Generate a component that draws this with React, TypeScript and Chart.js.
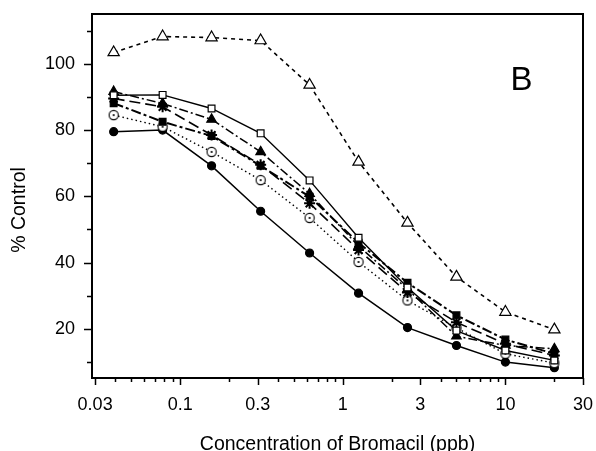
import React, { useEffect, useRef } from "react";
import { Chart, registerables } from "chart.js";

Chart.register(...registerables);

// Concentrations of Bromacil (ppb)
const CONC = [0.039, 0.078, 0.156, 0.3125, 0.625, 1.25, 2.5, 5, 10, 20];

// % Control series
const OPEN_TRIANGLE = [103.4, 108.2, 107.9, 107.0, 93.6, 70.4, 52.0, 35.7, 25.1, 19.8];
const OPEN_SQUARE = [90.5, 90.6, 86.5, 79.0, 64.8, 47.5, 32.5, 19.5, 13.5, 10.5];
const FILLED_TRIANGLE = [91.6, 88.0, 83.2, 73.4, 60.8, 45.0, 32.0, 17.8, 15.0, 14.0];
const STAR = [89.5, 87.0, 78.5, 69.5, 57.9, 43.8, 31.0, 22.0, 15.5, 12.0];
const FILLED_SQUARE = [88.1, 82.5, 78.2, 69.2, 59.9, 46.0, 33.9, 24.1, 16.8, 12.5];
const DOTTED_CIRCLE = [84.5, 81.0, 73.4, 64.9, 53.5, 40.2, 28.6, 20.3, 12.5, 9.7];
const FILLED_CIRCLE = [79.5, 80.0, 69.2, 55.5, 42.9, 30.8, 20.4, 15.0, 10.0, 8.3];

// Axis ticks
const X_MAJOR_TICKS = [0.03, 0.1, 0.3, 1, 3, 10, 30];
const X_MINOR_TICKS = [0.04, 0.05, 0.06, 0.07, 0.08, 0.09, 0.2, 0.4, 0.5, 0.6, 0.7, 0.8, 0.9, 2, 4, 5, 6, 7, 8, 9, 20];
const Y_MAJOR_TICKS = [20, 40, 60, 80, 100];
const Y_MINOR_TICKS = [10, 30, 50, 70, 90, 110];

const X_TITLE = "Concentration of Bromacil (ppb)";
const Y_TITLE = "% Control";
const PANEL_LABEL = "B";

const FONT = "'Liberation Sans', Arial, Helvetica, sans-serif";

function makeDottedCircle(): HTMLCanvasElement {
  const c = document.createElement("canvas");
  c.width = 12;
  c.height = 12;
  const g = c.getContext("2d")!;
  g.fillStyle = "#fff";
  g.strokeStyle = "#000";
  g.lineWidth = 1.1;
  g.beginPath();
  g.arc(6, 6, 4.6, 0, Math.PI * 2);
  g.fill();
  g.stroke();
  g.fillStyle = "#000";
  g.beginPath();
  g.arc(6, 6, 1.1, 0, Math.PI * 2);
  g.fill();
  return c;
}

const toPts = (ys: number[]) => CONC.map((x, i) => ({ x, y: ys[i] }));

const decorPlugin = {
  id: "decor",
  afterDraw(chart: any) {
    const { ctx, chartArea, scales } = chart;
    const xs = scales.x;
    const ys = scales.y;
    ctx.save();
    ctx.strokeStyle = "#000";
    ctx.lineWidth = 2;
    ctx.strokeRect(chartArea.left, chartArea.top, chartArea.right - chartArea.left, chartArea.bottom - chartArea.top);

    ctx.lineWidth = 1.5;
    ctx.beginPath();
    X_MAJOR_TICKS.forEach((v) => {
      const px = Math.round(xs.getPixelForValue(v)) + 0.5;
      ctx.moveTo(px, chartArea.bottom);
      ctx.lineTo(px, chartArea.bottom + 7);
    });
    X_MINOR_TICKS.forEach((v) => {
      const px = Math.round(xs.getPixelForValue(v)) + 0.5;
      ctx.moveTo(px, chartArea.bottom);
      ctx.lineTo(px, chartArea.bottom + 4);
    });
    Y_MAJOR_TICKS.forEach((v) => {
      const py = Math.round(ys.getPixelForValue(v)) + 0.5;
      ctx.moveTo(chartArea.left, py);
      ctx.lineTo(chartArea.left - 8, py);
    });
    Y_MINOR_TICKS.forEach((v) => {
      const py = Math.round(ys.getPixelForValue(v)) + 0.5;
      ctx.moveTo(chartArea.left, py);
      ctx.lineTo(chartArea.left - 5, py);
    });
    ctx.stroke();

    ctx.fillStyle = "#000";
    ctx.font = `19.5px ${FONT}`;
    ctx.textAlign = "center";
    ctx.textBaseline = "alphabetic";
    ctx.fillText(X_TITLE, (chartArea.left + chartArea.right) / 2, 450);

    ctx.save();
    ctx.translate(25, 210);
    ctx.rotate(-Math.PI / 2);
    ctx.fillText(Y_TITLE, 0, 0);
    ctx.restore();

    ctx.font = `33px ${FONT}`;
    ctx.fillText(PANEL_LABEL, 521.5, 90);
    ctx.restore();
  },
};

const zeroPad = (s: any) => {
  s.paddingTop = 0;
  s.paddingBottom = 0;
  s.paddingLeft = 0;
  s.paddingRight = 0;
};

export default function App() {
  const ref = useRef<HTMLCanvasElement>(null);

  useEffect(() => {
    const dotted = makeDottedCircle();
    const base = {
      borderColor: "#000",
      pointBorderColor: "#000",
      pointBorderWidth: 1.2,
      tension: 0,
      fill: false,
    };
    const chart = new Chart(ref.current!, {
      type: "line",
      data: {
        datasets: [
          {
            ...base,
            label: "open triangle",
            data: toPts(OPEN_TRIANGLE),
            borderWidth: 1.6,
            borderDash: [4, 4],
            pointStyle: "triangle",
            pointRadius: 6.5,
            pointBackgroundColor: "#fff",
          },
          {
            ...base,
            label: "open square",
            data: toPts(OPEN_SQUARE),
            borderWidth: 1.4,
            pointStyle: "rect",
            pointRadius: 4.8,
            pointBackgroundColor: "#fff",
          },
          {
            ...base,
            label: "filled triangle",
            data: toPts(FILLED_TRIANGLE),
            borderWidth: 1.5,
            borderDash: [9, 3, 2, 3],
            pointStyle: "triangle",
            pointRadius: 5.5,
            pointBackgroundColor: "#000",
          },
          {
            ...base,
            label: "star",
            data: toPts(STAR),
            borderWidth: 1.6,
            borderDash: [11, 5],
            pointStyle: "star",
            pointRadius: 5.5,
            pointBorderWidth: 2,
            pointBackgroundColor: "#000",
          },
          {
            ...base,
            label: "filled square",
            data: toPts(FILLED_SQUARE),
            borderWidth: 2,
            borderDash: [10, 3, 3, 3],
            pointStyle: "rect",
            pointRadius: 4.8,
            pointBackgroundColor: "#000",
          },
          {
            ...base,
            label: "dotted circle",
            data: toPts(DOTTED_CIRCLE),
            borderWidth: 1.4,
            borderDash: [1.5, 3],
            pointStyle: dotted,
            pointRadius: 6,
            pointBackgroundColor: "#fff",
          },
          {
            ...base,
            label: "filled circle",
            data: toPts(FILLED_CIRCLE),
            borderWidth: 1.5,
            pointStyle: "circle",
            pointRadius: 4,
            pointBackgroundColor: "#000",
          },
        ],
      },
      options: {
        animation: false,
        responsive: false,
        devicePixelRatio: 1,
        layout: { padding: { top: 14, right: 13, left: 0, bottom: 0 } },
        plugins: {
          legend: { display: false },
          tooltip: { enabled: false },
        },
        scales: {
          x: {
            type: "logarithmic",
            min: 0.0287,
            max: 30,
            grid: { display: false, drawTicks: false },
            border: { display: false },
            afterBuildTicks: (s: any) => {
              s.ticks = X_MAJOR_TICKS.map((v) => ({ value: v, major: true }));
            },
            afterFit: (s: any) => {
              s.height = 73;
              zeroPad(s);
            },
            ticks: {
              autoSkip: false,
              maxRotation: 0,
              padding: 16,
              color: "#000",
              font: { family: FONT, size: 18 },
              callback: (v: any) => String(v),
            },
          },
          y: {
            type: "linear",
            min: 5.2,
            max: 115,
            grid: { display: false, drawTicks: false },
            border: { display: false },
            afterBuildTicks: (s: any) => {
              s.ticks = Y_MAJOR_TICKS.map((v) => ({ value: v }));
            },
            afterFit: (s: any) => {
              s.width = 92;
              zeroPad(s);
            },
            ticks: {
              padding: 17,
              color: "#000",
              font: { family: FONT, size: 18 },
              callback: (v: any) => String(v),
            },
          },
        },
      },
      plugins: [decorPlugin],
    } as any);
    return () => chart.destroy();
  }, []);

  return (
    <div style={{ position: "absolute", left: 0, top: 0, width: 596, height: 451, background: "#fff" }}>
      <canvas ref={ref} width={596} height={451} style={{ display: "block" }} />
    </div>
  );
}
